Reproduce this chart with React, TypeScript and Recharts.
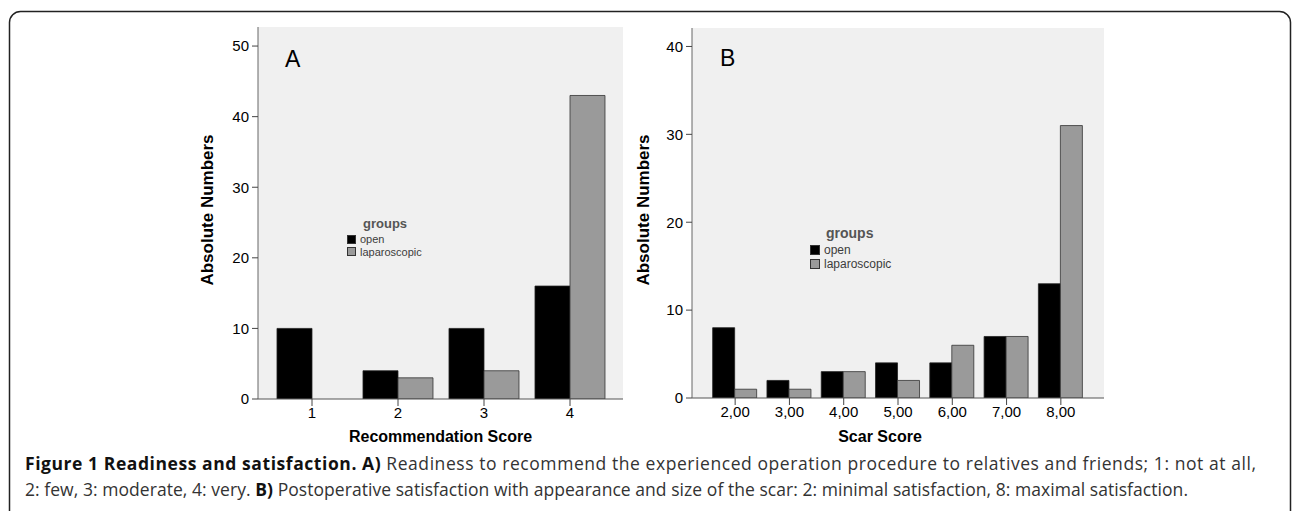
import React from 'react';
import { BarChart, Bar, XAxis, YAxis, CartesianGrid } from 'recharts';

// groups shown in both panels
const groupNames = ['open', 'laparoscopic'];
const groupColors = ['#000000', '#9a9a9a'];

// panel A: recommendation score
const recCategories = ['1', '2', '3', '4'];
const recOpen = [10, 4, 10, 16];
const recLap = [0, 3, 4, 43];
const recTicks = [0, 10, 20, 30, 40, 50];

// panel B: scar score
const scarCategories = ['2,00', '3,00', '4,00', '5,00', '6,00', '7,00', '8,00'];
const scarOpen = [8, 2, 3, 4, 4, 7, 13];
const scarLap = [1, 1, 3, 2, 6, 7, 31];
const scarTicks = [0, 10, 20, 30, 40];

const buildRows = (cats: string[], open: number[], lap: number[]) =>
  cats.map((c, i) => ({ score: c, open: open[i], laparoscopic: lap[i] }));

const recRows = buildRows(recCategories, recOpen, recLap);
const scarRows = buildRows(scarCategories, scarOpen, scarLap);

const AX = '"Liberation Sans", Arial, sans-serif';
const CAP = '"Open Sans", "Noto Sans", sans-serif';

const GroupsLegend = ({ x, y, titleSize, itemSize, box, step }: any) => (
  <div style={{ position: 'absolute', left: x, top: y, fontFamily: AX, color: '#3c3c3c' }}>
    <div style={{ fontSize: titleSize, fontWeight: 'bold', color: '#555', marginLeft: 16, lineHeight: `${titleSize + 6}px` }}>groups</div>
    {groupNames.map((g, i) => (
      <div key={g} style={{ display: 'flex', alignItems: 'center', height: step }}>
        <span style={{ width: box, height: box, background: groupColors[i], border: '1px solid #333', boxSizing: 'border-box', marginRight: 4 }} />
        <span style={{ fontSize: itemSize }}>{g}</span>
      </div>
    ))}
  </div>
);

const Panel = ({ left, width, height, margin, rows, ticks, domainMax, padding, gap, yLabelDx, xLabel, xLabelDx, xLabelDy }: any) => (
  <div style={{ position: 'absolute', left, top: 0 }}>
    <BarChart width={width} height={height} data={rows} margin={margin} barCategoryGap={gap} barGap={0}>
      <CartesianGrid fill="#f0f0f0" horizontal={false} vertical={false} />
      <XAxis
        dataKey="score"
        padding={padding}
        height={45}
        tickSize={7}
        tickMargin={1}
        axisLine={{ stroke: '#555' }}
        tickLine={{ stroke: '#444' }}
        tick={{ fill: '#000', fontSize: 15, fontFamily: AX }}
        label={(p: any) => {
          const vb = p.viewBox;
          return (
            <text x={vb.x + vb.width / 2 + xLabelDx} y={vb.y + xLabelDy} textAnchor="middle" fontFamily={AX} fontSize={16} fontWeight="bold" fill="#000">
              {xLabel}
            </text>
          );
        }}
      />
      <XAxis xAxisId="top" orientation="top" dataKey="score" height={0} tick={false} tickLine={false} axisLine={{ stroke: '#8a8a8a' }} />
      <YAxis
        domain={[0, domainMax]}
        ticks={ticks}
        width={60}
        tickSize={6}
        tickMargin={3}
        allowDataOverflow
        axisLine={{ stroke: '#666' }}
        tickLine={{ stroke: '#444' }}
        tick={{ fill: '#000', fontSize: 15, fontFamily: AX }}
        label={(p: any) => {
          const vb = p.viewBox;
          const cx = vb.x + yLabelDx;
          const cy = vb.y + vb.height / 2 - 3;
          return (
            <text x={cx} y={cy} transform={`rotate(-90 ${cx} ${cy})`} textAnchor="middle" dominantBaseline="central" fontFamily={AX} fontSize={17} fontWeight="bold" fill="#000">
              Absolute Numbers
            </text>
          );
        }}
      />
      <YAxis yAxisId="right" orientation="right" width={0} tick={false} tickLine={false} axisLine={{ stroke: '#8a8a8a' }} />
      <Bar dataKey="open" fill={groupColors[0]} stroke="#222" strokeWidth={0.8} isAnimationActive={false} />
      <Bar dataKey="laparoscopic" fill={groupColors[1]} stroke="#333" strokeWidth={0.8} isAnimationActive={false} />
    </BarChart>
  </div>
);

export default function App() {
  return (
    <div style={{ position: 'absolute', left: 0, top: 0, width: 1292, height: 511, background: '#fff', overflow: 'hidden' }}>
      <svg width={1292} height={511} style={{ position: 'absolute', left: 0, top: 0 }}>
        <rect x={9.5} y={11.5} width={1281} height={600} rx={11} fill="none" stroke="#222" strokeWidth={1.5} />
        <text x={25} y={470} fontFamily={CAP} fontSize={17.5} fill="#333" textLength={1231} lengthAdjust="spacing">
          <tspan fontWeight="bold" fill="#111">Figure 1 Readiness and satisfaction. A)</tspan>
          <tspan> Readiness to recommend the experienced operation procedure to relatives and friends; 1: not at all,</tspan>
        </text>
        <text x={25} y={496} fontFamily={CAP} fontSize={17.5} fill="#333" textLength={1163} lengthAdjust="spacing">
          <tspan>2: few, 3: moderate, 4: very. </tspan>
          <tspan fontWeight="bold" fill="#111">B)</tspan>
          <tspan> Postoperative satisfaction with appearance and size of the scar: 2: minimal satisfaction, 8: maximal satisfaction.</tspan>
        </text>
      </svg>

      <Panel
        left={150}
        width={500}
        height={460}
        margin={{ top: 27, right: 27, bottom: 16, left: 48 }}
        rows={recRows}
        ticks={recTicks}
        domainMax={52.7}
        padding={{ left: 11, right: 10 }}
        gap="9.3%"
        yLabelDx={9}
        xLabel="Recommendation Score"
        xLabelDx={0}
        xLabelDy={43}
      />
      <Panel
        left={620}
        width={520}
        height={460}
        margin={{ top: 28, right: 36, bottom: 17, left: 12 }}
        rows={scarRows}
        ticks={scarTicks}
        domainMax={42.1}
        padding={{ left: 16, right: 16 }}
        gap="8.6%"
        yLabelDx={11}
        xLabel="Scar Score"
        xLabelDx={-18}
        xLabelDy={44}
      />

      <div style={{ position: 'absolute', left: 285, top: 45, fontFamily: AX, fontSize: 23, lineHeight: '28px' }}>A</div>
      <div style={{ position: 'absolute', left: 720, top: 44, fontFamily: AX, fontSize: 23, lineHeight: '28px' }}>B</div>

      <GroupsLegend x={347} y={214} titleSize={13} itemSize={11} box={9} step={12.5} />
      <GroupsLegend x={810} y={223} titleSize={14} itemSize={12} box={10} step={14} />
    </div>
  );
}
